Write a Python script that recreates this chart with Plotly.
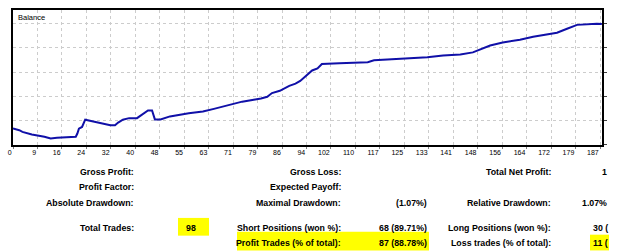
import plotly.graph_objects as go

# ---- data ----
trade_index = [0, 2, 3, 6, 10, 12, 14, 16, 20, 20.5, 21, 22, 23, 24.5, 27, 29, 31, 32.5, 33.5, 35,
               37, 39.5, 40.5, 43, 44.3, 45.2, 47, 50, 56, 60.5, 64, 70, 73, 79, 81, 82.5, 85, 88,
               90, 91.5, 94, 95.3, 97, 98.4, 104, 113, 115, 121, 126.5, 132, 137, 142.5, 146.5,
               149, 152, 156, 161.5, 165.7, 173.3, 176.5, 179.7, 186, 187.6]
balance = [9915, 9898, 9881, 9854, 9830, 9813, 9819, 9824, 9830, 9864, 9915, 9932, 10007, 9997,
           9977, 9959, 9949, 9949, 9977, 10007, 10023, 10023, 10044, 10102, 10102, 10010, 10010,
           10041, 10074, 10092, 10119, 10170, 10194, 10227, 10245, 10283, 10306, 10357, 10380,
           10408, 10476, 10517, 10538, 10584, 10592, 10602, 10622, 10632, 10643, 10653, 10673,
           10683, 10704, 10734, 10775, 10806, 10836, 10867, 10908, 10949, 10989, 11000, 10997]

x_tick_labels = ["0", "9", "16", "24", "32", "40", "48", "55", "63", "71", "79", "86", "94",
                 "102", "110", "117", "125", "133", "141", "148", "156", "164", "172", "179", "187"]

# stats table: (text, anchor pixel x, row, xanchor)
stat_labels = [
    ("Gross Profit:", 136, 0, "right"), ("Gross Loss:", 343, 0, "right"),
    ("Total Net Profit:", 553, 0, "right"), ("1", 609, 0, "right"),
    ("Profit Factor:", 136, 1, "right"), ("Expected Payoff:", 343, 1, "right"),
    ("Absolute Drawdown:", 136, 2, "right"), ("Maximal Drawdown:", 343, 2, "right"),
    ("(1.07%)", 429, 2, "right"), ("Relative Drawdown:", 553, 2, "right"),
    ("1.07%", 609, 2, "right"),
    ("Total Trades:", 136, 3, "right"), ("98", 191, 3, "center"),
    ("Short Positions (won %):", 343, 3, "right"), ("68 (89.71%)", 429, 3, "right"),
    ("Long Positions (won %):", 553, 3, "right"), ("30 (", 591, 3, "left"),
    ("Profit Trades (% of total):", 343, 4, "right"), ("87 (88.78%)", 429, 4, "right"),
    ("Loss trades (% of total):", 553, 4, "right"), ("11 (", 591, 4, "left"),
]
row_y = [172.5, 188, 203.5, 229, 244.5]

W, H = 625, 252
L, R, T, B = 13, 602, 8, 145


def px(x):
    return (x - L) / (R - L)


def py(y):
    return (B - y) / (B - T)


x_max = 187.0
tickvals = [i * x_max / 24 for i in range(25)]

fig = go.Figure()
fig.add_trace(go.Scatter(x=trade_index, y=balance, mode="lines",
                         line=dict(color="#1010a8", width=2), hoverinfo="skip"))

fig.update_layout(
    width=W, height=H,
    margin=dict(l=L, r=W - R, t=T, b=H - B),
    paper_bgcolor="white", plot_bgcolor="white",
    showlegend=False,
    font=dict(family="Liberation Sans", color="black"),
)
fig.update_xaxes(
    range=[0, (R - L) / (600 - L) * x_max],
    tickvals=tickvals, ticktext=x_tick_labels,
    ticks="outside", ticklen=2, tickcolor="#808080",
    ticklabelposition="outside left",
    tickfont=dict(size=7, color="black"),
    showgrid=True, gridcolor="#cccccc", griddash="3px,3px", gridwidth=1,
    showline=True, linecolor="black", linewidth=1.5, mirror=True,
    zeroline=False,
)
fig.update_yaxes(
    range=[9745, 11143], tick0=10000, dtick=250, side="right",
    ticks="outside", ticklen=3, tickcolor="#404040", showticklabels=False,
    showgrid=True, gridcolor="#cccccc", griddash="3px,3px", gridwidth=1,
    showline=True, linecolor="black", linewidth=1.5, mirror=True,
    zeroline=False,
)

# "Balance" caption
fig.add_annotation(text="Balance", xref="paper", yref="paper", x=px(15.5), y=py(15.5),
                   xanchor="left", yanchor="middle", showarrow=False,
                   font=dict(size=7.5, color="black"))

# yellow highlighter marks
hl = [(178, 219, 209, 237), (237, 233, 429, 252), (590, 236, 609, 252)]
for x0, y0, x1, y1 in hl:
    fig.add_shape(type="rect", xref="paper", yref="paper",
                  x0=px(x0), x1=px(x1), y0=py(y1), y1=py(y0),
                  fillcolor="#ffff00", line=dict(width=0), layer="below")

for text, xp, row, anc in stat_labels:
    fig.add_annotation(text="<b>%s</b>" % text, xref="paper", yref="paper",
                       x=px(xp), y=py(row_y[row]), xanchor=anc, yanchor="middle",
                       showarrow=False, font=dict(size=8.8, color="black"))

fig.write_html("out.html")
